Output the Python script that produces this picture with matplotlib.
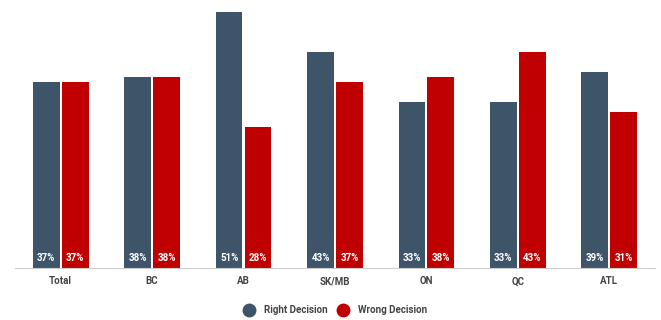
import numpy as np
import matplotlib.pyplot as plt
from matplotlib.lines import Line2D

plt.rcParams['font.family'] = ['Roboto', 'DejaVu Sans']

# DATA
regions = ['Total', 'BC', 'AB', 'SK/MB', 'ON', 'QC', 'ATL']
right = [37, 38, 51, 43, 33, 33, 39]
wrong = [37, 38, 28, 37, 38, 43, 31]

blue = '#3e5569'
red = '#c00000'

fig = plt.figure(figsize=(6.61, 3.2), dpi=100)
ax = fig.add_axes([0.0227, 0.1625, 0.968, 0.82])

x = np.arange(len(regions))
w = 0.293
off = 0.158
b1 = ax.bar(x - off, right, w, color=blue)
b2 = ax.bar(x + off, wrong, w, color=red)

# percent labels at the foot of each bar
for bars, vals in ((b1, right), (b2, wrong)):
    for b, v in zip(bars, vals):
        ax.text(b.get_x() + b.get_width() / 2, 1.0, f'{v}%', ha='center', va='bottom',
                color='white', fontsize=7, fontweight='bold')

ax.set_xlim(-0.5, len(regions) - 0.5)
ax.set_ylim(0, 52.2)
ax.set_xticks(x)
ax.set_xticklabels(regions, fontsize=7, fontweight='bold', color='#444444')
ax.tick_params(axis='x', length=0, pad=6)
ax.set_yticks([])
for s in ['top', 'right', 'left']:
    ax.spines[s].set_visible(False)
ax.spines['bottom'].set_color('#cccccc')

handles = [Line2D([], [], marker='o', ls='', color=blue, markersize=9),
           Line2D([], [], marker='o', ls='', color=red, markersize=9)]
fig.legend(handles, ['Right Decision', 'Wrong Decision'], loc='center',
           bbox_to_anchor=(0.504, 0.03), ncol=2, frameon=False,
           prop={'size': 7, 'weight': 'bold'}, labelcolor='#444444',
           handletextpad=0.6, columnspacing=0.5)

fig.savefig('out.png', dpi=100)
